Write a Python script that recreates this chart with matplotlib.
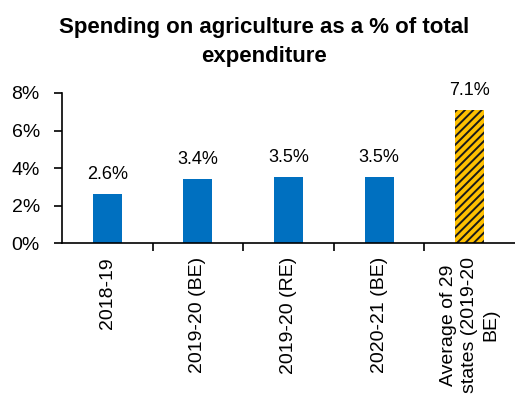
import matplotlib

matplotlib.use("Agg")

import matplotlib.pyplot as plt
import numpy as np
from matplotlib.ticker import FuncFormatter

plt.rcParams["font.family"] = ["Liberation Sans", "DejaVu Sans"]
plt.rcParams["hatch.linewidth"] = 1.4

categories = ["2018-19", "2019-20 (BE)", "2019-20 (RE)", "2020-21 (BE)",
              "Average of 29\nstates (2019-20\nBE)"]
shares = [2.6, 3.4, 3.5, 3.5, 7.1]

fig = plt.figure(figsize=(5.15, 3.94), dpi=100)
ax = fig.add_axes([0.1204, 0.383, 0.8796, 0.381])

x = np.arange(len(categories))
colors = ["#0070C0"] * 4 + ["#FFC000"]
bars = ax.bar(x, shares, width=0.32, color=colors, edgecolor="none")
bars[-1].set_hatch("////")
bars[-1].set_edgecolor("#1a1a1a")
bars[-1].set_linewidth(0)

for b, v in zip(bars, shares):
    ax.annotate(f"{v:.1f}%", (b.get_x() + b.get_width() / 2, v),
                xytext=(0, 8), textcoords="offset points",
                ha="center", va="bottom", fontsize=13)

ax.set_xlim(-0.5, len(categories) - 0.5)
ax.set_ylim(0, 8)
ax.set_yticks([0, 2, 4, 6, 8])
ax.yaxis.set_major_formatter(FuncFormatter(lambda v, _: f"{v:.0f}%"))
ax.set_xticks(x)
ax.set_xticklabels(categories, rotation=90, ha="center", va="top",
                   multialignment="center", linespacing=1.35)
ax.set_xticks(np.arange(0.5, len(categories) - 0.5), minor=True)
ax.tick_params(axis="x", which="major", length=0, pad=10, labelsize=14)
ax.tick_params(axis="x", which="minor", length=6, width=1.2, direction="out")
ax.tick_params(axis="y", length=6, width=1.2, labelsize=14, pad=10)

for side in ("top", "right"):
    ax.spines[side].set_visible(False)
ax.spines["left"].set_linewidth(1.2)
ax.spines["bottom"].set_linewidth(1.2)

fig.suptitle("Spending on agriculture as a % of total\nexpenditure",
             fontsize=16, fontweight="bold", x=0.512, y=0.958, va="top",
             linespacing=1.55)

fig.savefig("out.png", dpi=100)
